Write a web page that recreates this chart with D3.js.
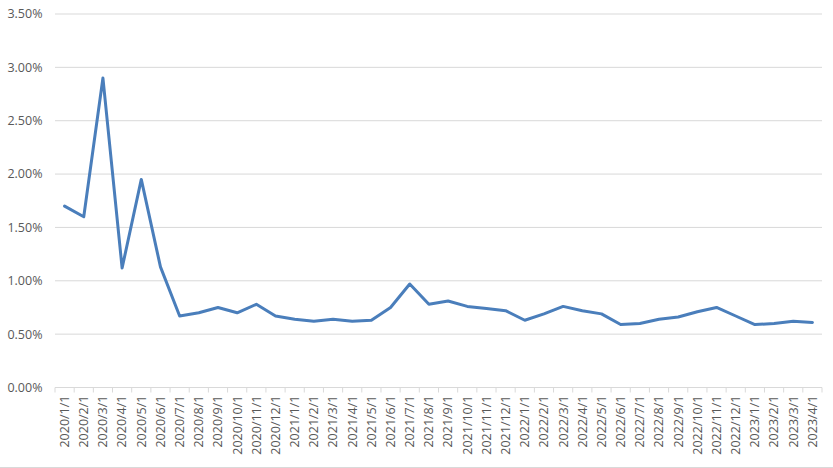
<!DOCTYPE html>
<html><head><meta charset="utf-8">
<script src="https://cdn.jsdelivr.net/npm/d3@7"></script>
<style>body{margin:0;background:#fff}svg{display:block}</style>
</head><body>
<svg id="c" width="833" height="468"></svg>
<script>
const categories = ["2020/1/1","2020/2/1","2020/3/1","2020/4/1","2020/5/1","2020/6/1","2020/7/1","2020/8/1","2020/9/1","2020/10/1","2020/11/1","2020/12/1",
"2021/1/1","2021/2/1","2021/3/1","2021/4/1","2021/5/1","2021/6/1","2021/7/1","2021/8/1","2021/9/1","2021/10/1","2021/11/1","2021/12/1",
"2022/1/1","2022/2/1","2022/3/1","2022/4/1","2022/5/1","2022/6/1","2022/7/1","2022/8/1","2022/9/1","2022/10/1","2022/11/1","2022/12/1",
"2023/1/1","2023/2/1","2023/3/1","2023/4/1"];
const values = [0.0170,0.0160,0.0290,0.0112,0.0195,0.0113,0.0067,0.0070,0.0075,0.0070,0.0078,0.0067,
0.0064,0.0062,0.0064,0.0062,0.0063,0.0075,0.0097,0.0078,0.0081,0.0076,0.0074,0.0072,
0.0063,0.0069,0.0076,0.0072,0.0069,0.0059,0.0060,0.0064,0.0066,0.0071,0.0075,0.0067,
0.0059,0.0060,0.0062,0.0061];
const yTicks = [0,0.005,0.01,0.015,0.02,0.025,0.03,0.035];

const svg = d3.select("#c");
const pLeft = 55, pRight = 822, pTop = 14, pBottom = 387.5;
const x = d3.scaleBand().domain(categories).range([pLeft, pRight]);
const y = d3.scaleLinear().domain([0, 0.035]).range([pBottom, pTop]);
const font = "'Open Sans', 'Noto Sans', sans-serif";

// gridlines
svg.append("g").selectAll("line").data(yTicks.slice(1)).join("line")
  .attr("x1", pLeft).attr("x2", pRight)
  .attr("y1", d => y(d)).attr("y2", d => y(d))
  .attr("stroke", "#d9d9d9").attr("stroke-width", 1);

// y labels
svg.append("g").selectAll("text").data(yTicks).join("text")
  .attr("x", 42.5).attr("y", d => y(d)).attr("dy", "0.35em")
  .attr("text-anchor", "end").attr("fill", "#595959")
  .style("font-family", font).style("font-size", "12.5px")
  .text(d => d3.format(".2%")(d));

// x axis line
svg.append("line").attr("x1", pLeft).attr("x2", pRight).attr("y1", pBottom).attr("y2", pBottom)
  .attr("stroke", "#d9d9d9").attr("stroke-width", 1);
// tick marks at band boundaries
const bounds = categories.map(c => x(c)).concat([pRight]);
svg.append("g").selectAll("line").data(bounds).join("line")
  .attr("x1", d => d).attr("x2", d => d).attr("y1", pBottom).attr("y2", pBottom + 5)
  .attr("stroke", "#d9d9d9");

// x labels
svg.append("g").selectAll("text").data(categories).join("text")
  .attr("transform", d => `translate(${x(d) + x.bandwidth()/2},${pBottom + 8}) rotate(-90)`)
  .attr("dy", "0.35em").attr("text-anchor", "end").attr("fill", "#595959")
  .style("font-family", font).style("font-size", "12.5px")
  .text(d => d);

// line
const line = d3.line().x((d, i) => x(categories[i]) + x.bandwidth()/2).y(d => y(d));
svg.append("path").datum(values).attr("d", line)
  .attr("fill", "none").attr("stroke", "#4a7ebb").attr("stroke-width", 3)
  .attr("stroke-linejoin", "round").attr("stroke-linecap", "round");

// bottom frame line
svg.append("line").attr("x1", 0).attr("x2", 833).attr("y1", 467.5).attr("y2", 467.5)
  .attr("stroke", "#d9d9d9");
</script>
</body></html>
